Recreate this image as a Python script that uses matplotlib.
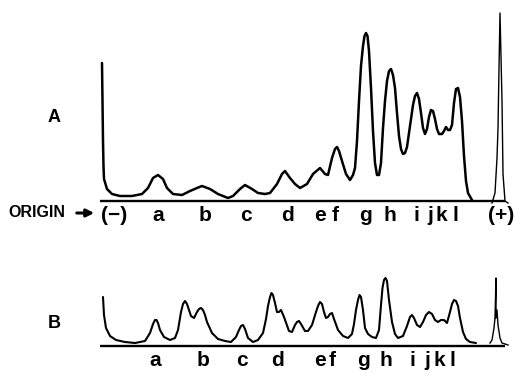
import matplotlib.pyplot as plt

plt.rcParams["font.family"] = ["Liberation Sans", "DejaVu Sans"]
plt.rcParams["font.weight"] = "bold"

# trace A: migration position and optical density (arbitrary units)
a_pos = [102, 102.5, 103, 103.5, 104, 107, 112, 120, 132, 142, 148, 153, 158,
         163, 167, 173, 182, 190, 197, 202, 210, 218, 228, 233, 240, 245, 252,
         258, 265, 270, 277, 282, 285, 290, 295, 300, 307, 313, 320, 325, 328,
         332, 335, 337, 339, 342, 346, 350, 353, 355, 357, 359, 361, 363, 364.5,
         366, 367.5, 369, 371, 373, 375, 377, 379, 381, 383, 385, 387, 389, 391,
         393, 395, 397, 399, 401, 403, 405, 407, 409, 411, 413, 415, 417, 419,
         421, 423, 425, 427, 429, 431, 433, 435, 437, 439, 442, 444, 446, 448,
         450, 452, 454, 456, 458, 460, 462, 464, 466, 468, 472]
a_dens = [138, 100, 60, 35, 22, 12, 7, 5, 5, 7, 13, 23, 26,
          22, 13, 7, 6, 10, 13, 15, 12, 7, 3, 5, 12, 16, 12,
          8, 7, 8, 17, 27, 30, 23, 17, 13, 17, 27, 33, 27, 26,
          43, 52, 54, 50, 40, 27, 21, 26, 33, 60, 100, 135, 155, 165,
          168, 165, 150, 113, 70, 38, 26, 26, 38, 73, 100, 120, 130, 132,
          126, 113, 88, 65, 52, 47, 48, 54, 68, 82, 96, 105, 108, 102,
          88, 73, 67, 72, 84, 91, 90, 82, 72, 67, 67, 70, 74, 71,
          71, 76, 98, 112, 113, 104, 80, 45, 20, 8, 1]
a_plus_pos = [492, 495, 497, 498, 499, 500, 502, 503, 505, 508]
a_plus_dens = [-2, 8, 43, 73, 133, 188, 100, 27, 0, -2]

# trace B
b_pos = [103, 104, 106, 110, 116, 125, 135, 145, 150, 153, 155, 156.5, 158, 160,
         164, 170, 175, 178, 181, 183, 185, 187, 191, 194, 197, 199, 201, 203,
         205, 207, 212, 218, 225, 231, 236, 239, 241, 243, 245, 248, 253, 258,
         263, 266, 268, 270, 271.5, 273, 275, 277, 279, 281, 284, 289, 292, 295,
         297, 299, 301, 305, 308, 312, 316, 318, 320, 322, 324, 326, 328, 330,
         332, 334, 338, 343, 348, 352, 354, 356, 358, 359.5, 361, 363, 365, 368,
         372, 376, 379, 381, 382.5, 384, 385.5, 387, 389, 392, 395, 398, 403,
         407, 410, 412, 414, 417, 420, 423, 426, 429, 432, 435, 438, 441, 444,
         447, 450, 452, 454, 456, 458, 460, 463, 466, 470, 476]
b_dens = [49, 31, 18, 10, 6, 4, 3, 5, 13, 22, 26, 26, 23, 16,
          9, 6, 8, 16, 34, 42, 45, 42, 30, 28, 34, 37, 38, 36,
          31, 24, 13, 7, 5, 4, 9, 16, 20, 21, 17, 8, 4, 6,
          13, 27, 40, 49, 53, 51, 43, 34, 34, 36, 29, 15, 14, 21,
          24, 25, 22, 15, 15, 21, 34, 40, 44, 42, 34, 28, 29, 32,
          33, 27, 16, 10, 8, 12, 22, 36, 46, 51, 49, 36, 18, 12,
          9, 8, 16, 41, 58, 66, 68, 65, 46, 24, 12, 8, 10,
          20, 29, 31, 28, 21, 19, 24, 31, 34, 32, 26, 24, 26, 26,
          23, 34, 42, 46, 45, 40, 28, 14, 7, 4, 3]
b_plus_pos = [490, 492, 494, 495, 496, 496, 497, 498, 500, 502, 508]
b_plus_dens = [3, 6, 18, 28, 68, 28, 36, 21, 8, 3, 1]

baseline_span = [100, 505]

a_band_pos = [114, 158, 205, 246, 287, 320, 335, 366, 390, 416, 430, 441, 455, 501]
a_band_lab = ["(\u2212)", "a", "b", "c", "d", "e", "f", "g", "h", "i", "j", "k", "l", "(+)"]
b_band_pos = [155, 203, 242, 278, 320, 332, 364, 386, 412, 427, 439, 452]
b_band_lab = ["a", "b", "c", "d", "e", "f", "g", "h", "i", "j", "k", "l"]

fig = plt.figure(figsize=(5.15, 3.74), dpi=100)


def draw_trace(ax, pos, dens, plus_pos, plus_dens, lw, top, ticks, labels):
    ax.plot(pos, dens, color="black", lw=lw, solid_joinstyle="round",
            solid_capstyle="round", clip_on=False)
    ax.plot(plus_pos, plus_dens, color="black", lw=1.0, clip_on=False)
    ax.hlines(0, baseline_span[0], baseline_span[1], color="black", lw=1.7,
              clip_on=False)
    ax.set_xlim(0, 515)
    ax.set_ylim(0, top)
    ax.set_xticks(ticks, labels, fontsize=15, fontweight="bold")
    ax.tick_params(axis="x", length=0, pad=3.5)
    ax.set_yticks([])
    for s in ax.spines.values():
        s.set_visible(False)
    ax.patch.set_visible(False)


ax_a = fig.add_axes([0, 1 - 201 / 374, 1, 201 / 374])
draw_trace(ax_a, a_pos, a_dens, a_plus_pos, a_plus_dens, 1.8, 201,
           a_band_pos, a_band_lab)

ax_b = fig.add_axes([0, 1 - 346 / 374, 1, 76 / 374])
draw_trace(ax_b, b_pos, b_dens, b_plus_pos, b_plus_dens, 1.5, 76,
           b_band_pos, b_band_lab)

fig.text(8 / 515, 1 - 213 / 374, "ORIGIN", fontsize=11.5,
         fontweight="bold", va="center", ha="left")
fig.patches.append(plt.matplotlib.patches.FancyArrowPatch(
    (74 / 515, 1 - 213 / 374), (97 / 515, 1 - 213 / 374),
    transform=fig.transFigure, arrowstyle="-|>", mutation_scale=11,
    lw=2.2, color="black"))
fig.text(54 / 515, 1 - 118 / 374, "A", fontsize=13, fontweight="bold",
         va="center", ha="center")
fig.text(54 / 515, 1 - 323 / 374, "B", fontsize=13, fontweight="bold",
         va="center", ha="center")

fig.savefig("out.png", dpi=100)
